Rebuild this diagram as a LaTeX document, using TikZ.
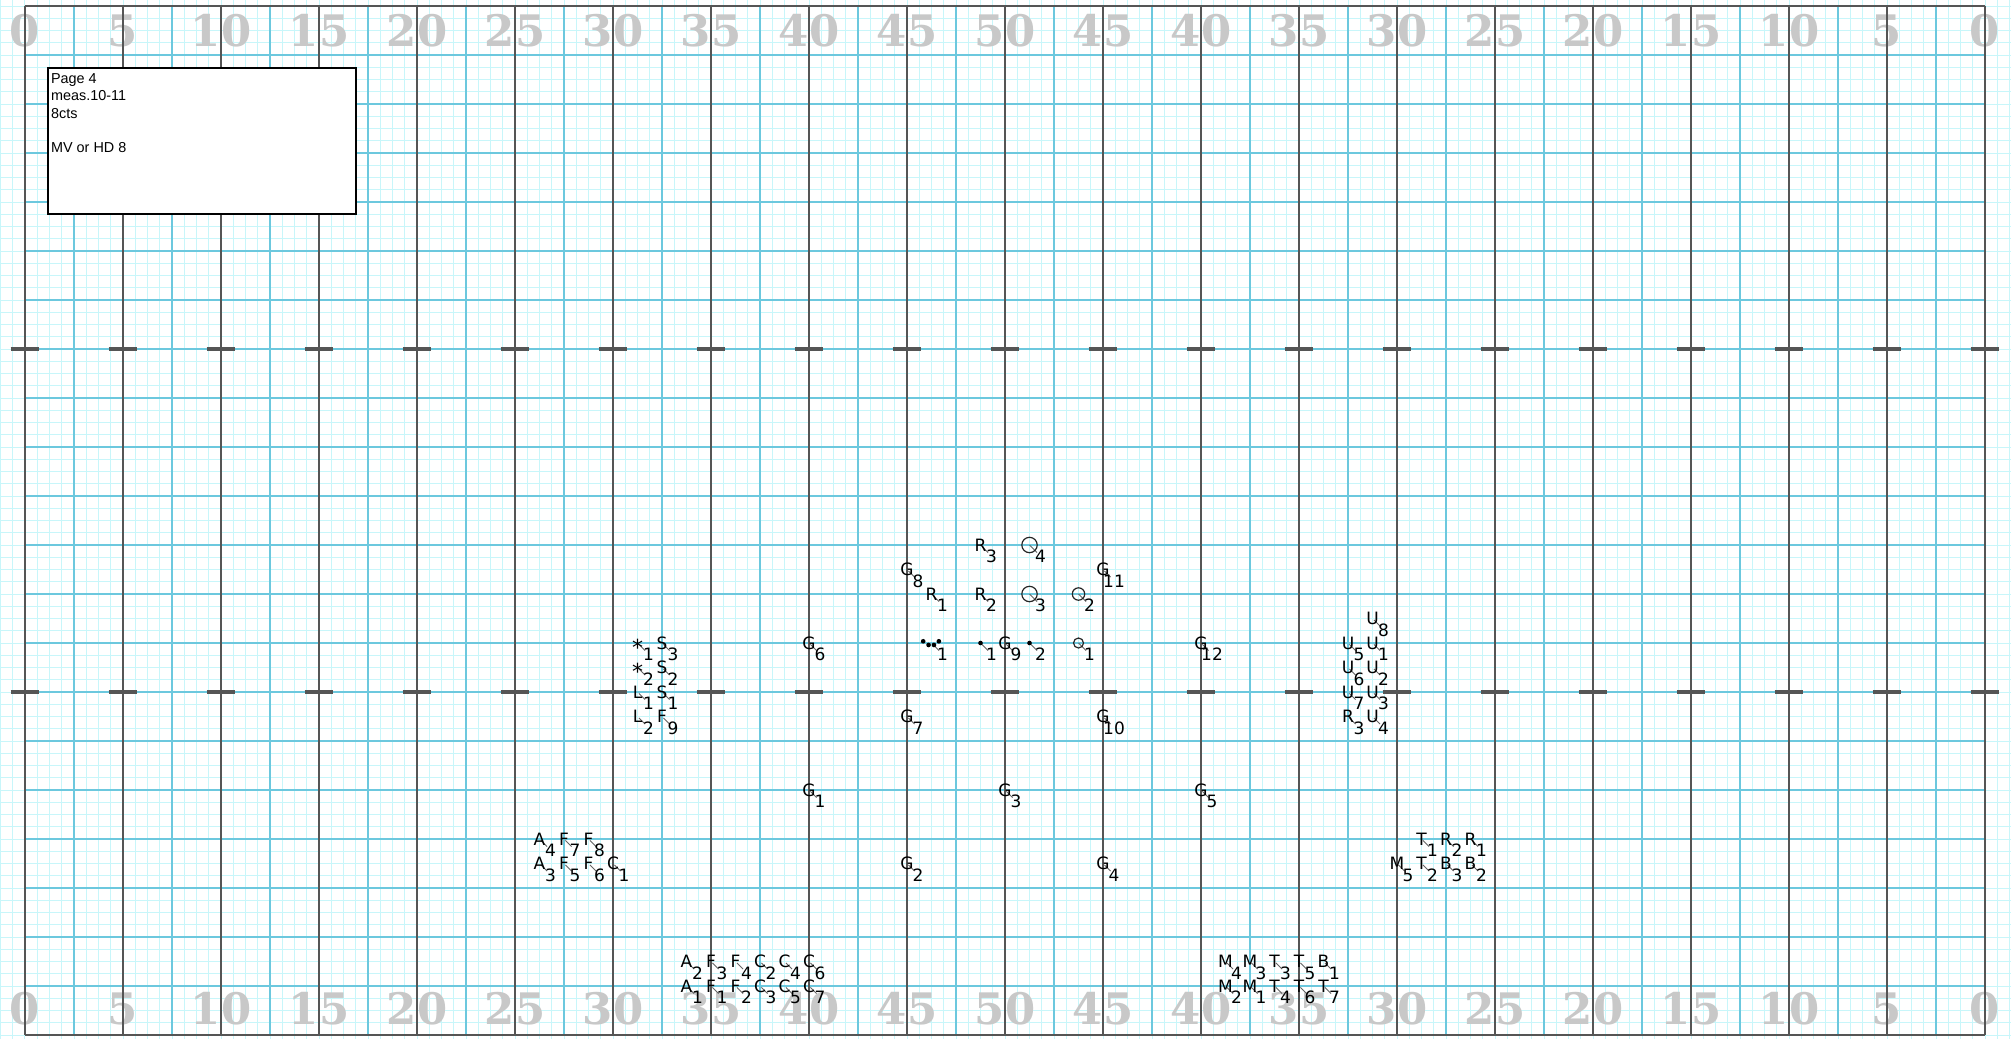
\documentclass[tikz,border=0pt]{standalone}
\usepackage{fontspec}
\setmainfont{DejaVu Sans}
\newfontfamily\boxfont{Liberation Sans}
\newfontfamily\yardfont{DejaVu Serif}[BoldFont={DejaVu Serif Bold}]
\usetikzlibrary{calc}
\definecolor{finec}{RGB}{200,246,250}
\definecolor{midc}{RGB}{108,200,222}
\definecolor{darkc}{RGB}{85,85,85}
\definecolor{yardc}{RGB}{200,200,200}
\definecolor{leadc}{RGB}{100,100,100}
\tikzset{
 fineline/.style={finec, line width=0.5pt},
 midline/.style={midc, line width=0.9pt},
 darkline/.style={darkc, line width=1pt},
 hashmark/.style={darkc, line width=2pt},
 leader/.style={leadc, line width=0.5pt},
 sym/.style={inner sep=0pt, font=\fontsize{8.5pt}{10pt}\selectfont, text height=6.2pt, text depth=0pt},
 num/.style={sym},
 yardnum/.style={inner sep=0pt, text=yardc, font=\yardfont\bfseries\fontsize{21.7pt}{24pt}\selectfont, text height=15.8pt, text depth=0pt},
 boxtext/.style={inner sep=0pt, anchor=base west, font=\boxfont\fontsize{7.2pt}{8.65pt}\selectfont},
 ring/.style={circle, draw=black!85, line width=0.6pt, inner sep=0pt},
 dotmark/.style={fill=black},
 astsym/.style={inner sep=0pt, anchor=base, font=\fontsize{11pt}{12pt}\selectfont},
 infobox/.style={draw=black, line width=0.8pt, fill=white},
}
% letter performer: name, x, y, letter, number
\newcommand\pf[5]{%
  \coordinate (#1) at (#2,#3);
  \coordinate (#1-a) at ($(#1)+(0.12,0.12)$);
  \coordinate (#1-b) at ($(#1)+(0.62,0.62)$);
  \draw[leader] (#1-a) -- (#1-b);
  \node[sym] (#1-s) at (#1) {#4};
  \node[num] (#1-n) at ($(#1)+(0.9,0.95)$) {#5};
}
% ring performer: name, x, y, diameter, number
\newcommand\pfo[5]{%
  \coordinate (#1) at (#2,#3);
  \coordinate (#1-b) at ($(#1)+(0.62,0.62)$);
  \draw[leader] (#1) -- (#1-b);
  \node[ring, minimum size=#4] (#1-s) at (#1) {};
  \node[num] (#1-n) at ($(#1)+(0.9,0.95)$) {#5};
}
% dot performer: name, x, y, number
\newcommand\pfd[4]{%
  \coordinate (#1) at (#2,#3);
  \coordinate (#1-b) at ($(#1)+(0.62,0.62)$);
  \draw[leader] (#1) -- (#1-b);
  \fill[dotmark] (#1) circle (0.19);
  \node[num] (#1-n) at ($(#1)+(0.9,0.95)$) {#4};
}
% asterisk performer: name, x, y, number
\newcommand\pfa[4]{%
  \coordinate (#1) at (#2,#3);
  \coordinate (#1-a) at ($(#1)+(0.12,0.12)$);
  \coordinate (#1-b) at ($(#1)+(0.62,0.62)$);
  \draw[leader] (#1-a) -- (#1-b);
  \node[astsym] (#1-s) at ($(#1)+(0,1.0)$) {*};
  \node[num] (#1-n) at ($(#1)+(0.9,0.95)$) {#4};
}
\begin{document}
\begin{tikzpicture}[x=6.125pt,y=-6.125pt]
\useasboundingbox (-2.0408,-0.4898) rectangle (162.1224,84.3265);
\fill[white] (-2.0408,-0.4898) rectangle (162.1224,84.3265);
% fine step grid
\foreach \i in {-2,...,162} \draw[fineline] (\i,-0.49) -- (\i,84.33);
\foreach \j in {0,...,84} \draw[fineline] (-2.04,\j) -- (162.12,\j);
% yard numbers
\foreach \n [count=\k from 0] in {0,5,10,15,20,25,30,35,40,45,50,45,40,35,30,25,20,15,10,5,0}{
  \node[yardnum] (top-\k) at (8*\k,2.04) {\n};
  \node[yardnum] (bot-\k) at (8*\k,81.88) {\n};
}
% 4-step lines
\foreach \i in {4,12,...,156} \draw[midline] (\i,0) -- (\i,84);
\foreach \j in {4,8,...,80} \draw[midline] (0,\j) -- (160,\j);
% 5-yard lines and border
\foreach \i in {0,8,...,160} \draw[darkline] (\i,0) -- (\i,84);
\draw[darkline] (0,0) -- (160,0);
\draw[darkline] (0,84) -- (160,84);
% hash marks
\foreach \i in {0,8,...,160}{
  \draw[hashmark] (\i-1.18,28) -- (\i+1.18,28);
  \draw[hashmark] (\i-1.18,56) -- (\i+1.18,56);
}
% info box
\draw[infobox] (1.9,5.04) rectangle (27,17);
\node[boxtext] (t1) at (2.1,6.31) {Page 4};
\node[boxtext] (t2) at (2.1,7.73) {meas.10-11};
\node[boxtext] (t3) at (2.1,9.17) {8cts};
\node[boxtext] (t4) at (2.1,11.98) {MV or HD 8};
% center cluster
\pf{R3a}{78}{44}{R}{3}
\pfo{O4}{82}{44}{7.7pt}{4}
\pf{G8}{72}{46}{G}{8}
\pf{G11}{88}{46}{G}{11}
\pf{R1a}{74}{48}{R}{1}
\pf{R2a}{78}{48}{R}{2}
\pfo{O3}{82}{48}{7.7pt}{3}
\pfo{O2}{86}{48}{6.2pt}{2}
% quad cluster
\coordinate (Q1) at (74,52);
\coordinate (Q1-a) at ($(Q1)+(0.12,0.12)$);
\coordinate (Q1-b) at ($(Q1)+(0.62,0.62)$);
\draw[leader] (Q1-a) -- (Q1-b);
\fill[dotmark] ($(Q1)+(-0.68,-0.14)$) circle (0.19);
\fill[dotmark] ($(Q1)+(-0.24,0.16)$) circle (0.19);
\fill[dotmark] ($(Q1)+(0.2,0.16)$) circle (0.19);
\fill[dotmark] ($(Q1)+(0.6,-0.14)$) circle (0.19);
\node[num] (Q1-n) at ($(Q1)+(0.9,0.95)$) {1};
\pfd{D1}{78}{52}{1}
\pf{G9}{80}{52}{G}{9}
\pfd{D2}{82}{52}{2}
\pfo{O1}{86}{52}{5pt}{1}
\pf{G6}{64}{52}{G}{6}
\pf{G12}{96}{52}{G}{12}
\pf{G7}{72}{58}{G}{7}
\pf{G10}{88}{58}{G}{10}
% left cluster
\pfa{X1}{50}{52}{1}
\pf{S3}{52}{52}{S}{3}
\pfa{X2}{50}{54}{2}
\pf{S2}{52}{54}{S}{2}
\pf{L1}{50}{56}{L}{1}
\pf{S1}{52}{56}{S}{1}
\pf{L2}{50}{58}{L}{2}
\pf{F9}{52}{58}{F}{9}
% right cluster
\pf{U8}{110}{50}{U}{8}
\pf{U5}{108}{52}{U}{5}
\pf{U1}{110}{52}{U}{1}
\pf{U6}{108}{54}{U}{6}
\pf{U2}{110}{54}{U}{2}
\pf{U7}{108}{56}{U}{7}
\pf{U3}{110}{56}{U}{3}
\pf{R3b}{108}{58}{R}{3}
\pf{U4}{110}{58}{U}{4}
% G diamond
\pf{G1}{64}{64}{G}{1}
\pf{G3}{80}{64}{G}{3}
\pf{G5}{96}{64}{G}{5}
\pf{G2}{72}{70}{G}{2}
\pf{G4}{88}{70}{G}{4}
% lower left group
\pf{A4}{42}{68}{A}{4}
\pf{F7}{44}{68}{F}{7}
\pf{F8}{46}{68}{F}{8}
\pf{A3}{42}{70}{A}{3}
\pf{F5}{44}{70}{F}{5}
\pf{F6}{46}{70}{F}{6}
\pf{C1}{48}{70}{C}{1}
% lower right group
\pf{T1}{114}{68}{T}{1}
\pf{R2b}{116}{68}{R}{2}
\pf{R1b}{118}{68}{R}{1}
\pf{M5}{112}{70}{M}{5}
\pf{T2}{114}{70}{T}{2}
\pf{B3}{116}{70}{B}{3}
\pf{B2}{118}{70}{B}{2}
% bottom left block
\pf{A2}{54}{78}{A}{2}
\pf{F3}{56}{78}{F}{3}
\pf{F4}{58}{78}{F}{4}
\pf{C2}{60}{78}{C}{2}
\pf{C4}{62}{78}{C}{4}
\pf{C6}{64}{78}{C}{6}
\pf{A1}{54}{80}{A}{1}
\pf{F1}{56}{80}{F}{1}
\pf{F2}{58}{80}{F}{2}
\pf{C3}{60}{80}{C}{3}
\pf{C5}{62}{80}{C}{5}
\pf{C7}{64}{80}{C}{7}
% bottom right block
\pf{M4}{98}{78}{M}{4}
\pf{M3}{100}{78}{M}{3}
\pf{T3}{102}{78}{T}{3}
\pf{T5}{104}{78}{T}{5}
\pf{B1}{106}{78}{B}{1}
\pf{M2}{98}{80}{M}{2}
\pf{M1}{100}{80}{M}{1}
\pf{T4}{102}{80}{T}{4}
\pf{T6}{104}{80}{T}{6}
\pf{T7}{106}{80}{T}{7}
\end{tikzpicture}
\end{document}
